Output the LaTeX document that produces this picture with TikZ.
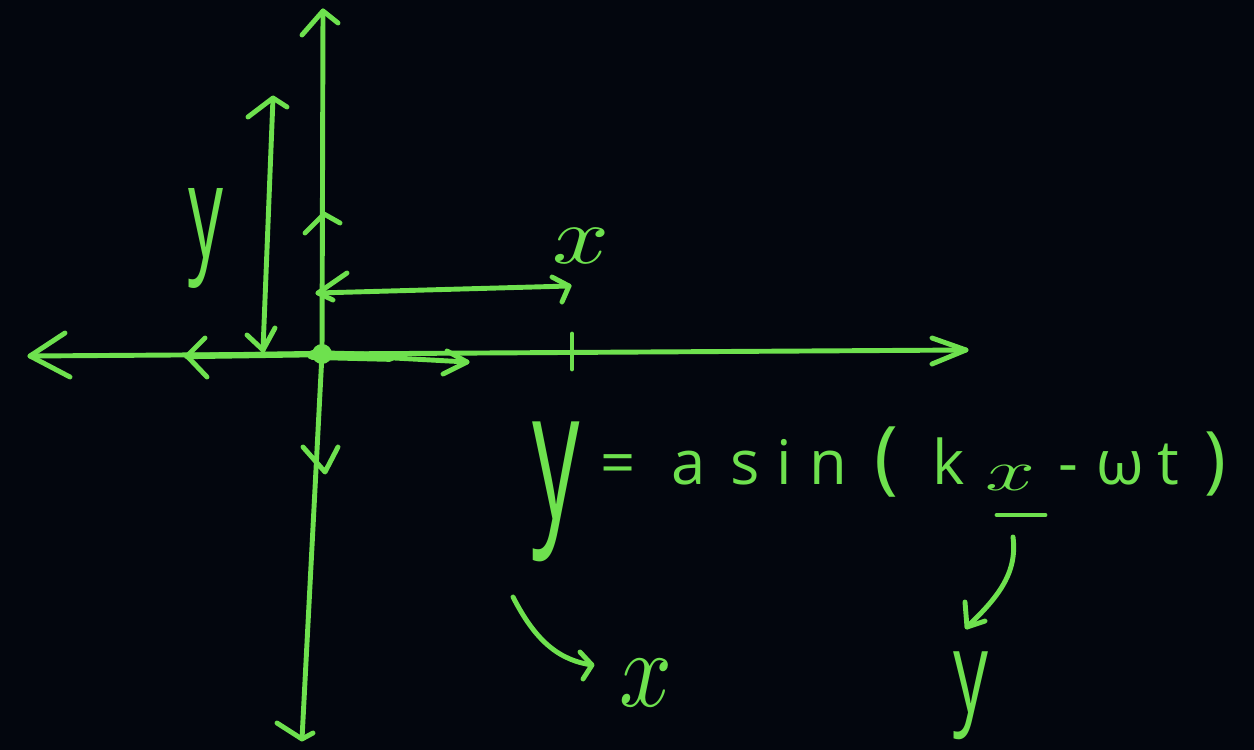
\documentclass[tikz,border=0pt]{standalone}
\usepackage{fontspec}
\setmainfont{Open Sans}
\usepackage{graphicx}
\definecolor{board}{HTML}{03060E}
\definecolor{chalk}{HTML}{6EE14E}
\newlength{\pxu}
\setlength{\pxu}{0.02cm}
\newcommand{\eqcell}[2]{\makebox[#1\pxu][c]{#2}}
\tikzset{
  pen/.style={draw=chalk, line width=2.8pt, line cap=round, line join=round},
  lbl/.style={text=chalk, inner sep=0pt, outer sep=0pt},
}
\begin{document}
\begin{tikzpicture}[x=0.02cm, y=-0.02cm]
\fill[board] (0,0) rectangle (1254,750);
\useasboundingbox (0,0) rectangle (1254,750);

% key points
\coordinate (O) at (322,354);
\coordinate (vtop) at (323,11);
\coordinate (vbot) at (302,739);
\coordinate (hl) at (30,356);
\coordinate (hr) at (966,350);
\coordinate (sr) at (467,362);
\coordinate (ymt) at (273,98);
\coordinate (ymb) at (263,350);
\coordinate (xml) at (318,293);
\coordinate (xmr) at (569,286);

% vertical axis
\draw[pen] (vtop) -- (O) -- (vbot);
\draw[pen] (302,35) -- (vtop) -- (338,23);
\draw[pen] (277,723) -- (vbot) -- (313,733);
\draw[pen] (305,233) -- (324,214) -- (340,223);
\draw[pen] (303,447) -- (325,472) -- (338,447);

% horizontal axis
\draw[pen] (hl) -- (O) -- (hr);
\draw[pen, line width=3.6pt] (187,356) -- (O);
\draw[pen] (65,333) -- (hl) -- (70,377);
\draw[pen] (205,338) -- (187,356) -- (207,377);
\draw[pen] (932,338) -- (hr) -- (932,364);
\draw[pen] (572,334) -- (572,369);

% short arrow from origin
\draw[pen] (O) -- (sr);
\draw[pen, line width=5.5pt] (312,355) -- (390,357);
\fill[chalk] (O) circle (10);
\draw[pen] (447,351) -- (sr) -- (443,374);

% y measure
\draw[pen] (ymt) -- (ymb);
\draw[pen] (248,117) -- (ymt) -- (287,107);
\draw[pen] (247,335) -- (ymb) -- (275,328);
\node[lbl] (ylab) at (206,238) {\resizebox*{0.7cm}{2.0cm}{y}};

% x measure
\draw[pen] (xml) -- (xmr);
\draw[pen] (347,273) -- (xml) -- (333,300);
\draw[pen] (552,277) -- (xmr) -- (562,302);
\node[lbl] (xlab) at (581,246) {\resizebox*{1.14cm}{0.7cm}{$x$}};

% equation
\node[lbl] (eqy) at (556,492) {\resizebox*{0.95cm}{2.8cm}{y}};
\node[lbl, anchor=base west] (eq) at (581,484) {\fontsize{35}{40}\selectfont
  \eqcell{74}{=}\eqcell{67}{a}\eqcell{45.5}{s}\eqcell{34}{i}\eqcell{54}{n}%
  \eqcell{61.5}{{\fontsize{46}{50}\selectfont(}}\eqcell{63}{k}%
  \eqcell{61}{\raisebox{-6\pxu}{\resizebox*{1.0cm}{0.5cm}{$x$}}}\eqcell{54}{-}%
  \eqcell{50.5}{ω}\eqcell{45}{t}\eqcell{49.5}{{\fontsize{42}{50}\selectfont)}}};
\coordinate (ulL) at (997,515);
\coordinate (ulR) at (1045,515);
\draw[pen] (ulL) -- (ulR);

% x -> y arrow
\coordinate (caS) at (1013,537);
\coordinate (caT) at (967,627);
\draw[pen] (caS) .. controls (1018,575) and (995,600) .. (caT);
\draw[pen] (965,602) -- (caT) -- (985,621);
\node[lbl] (ybot) at (971,696) {\resizebox*{0.7cm}{1.76cm}{y}};

% y -> x arrow
\coordinate (hkS) at (513,597);
\coordinate (hkT) at (592,665);
\draw[pen] (hkS) .. controls (535,640) and (558,660) .. (hkT);
\draw[pen] (580,652) -- (hkT) -- (583,679);
\node[lbl] (xbot) at (646,683) {\resizebox*{1.06cm}{0.94cm}{$x$}};
\end{tikzpicture}
\end{document}
